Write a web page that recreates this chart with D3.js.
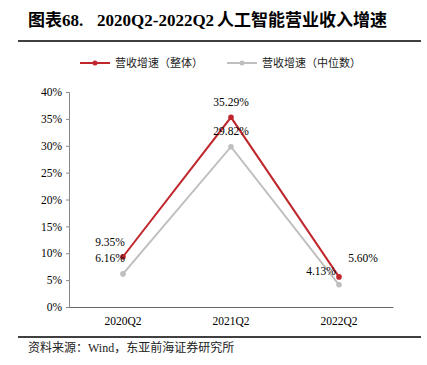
<!DOCTYPE html>
<html>
<head>
<meta charset="utf-8">
<script src="https://cdn.jsdelivr.net/npm/d3@7"></script>
<style>
  body { margin: 0; background: #fff; }
  svg { display: block; }
</style>
</head>
<body>
<div id="chart"></div>
<script>
const categories = ["2020Q2", "2021Q2", "2022Q2"];
const overall = [9.35, 35.29, 5.60];   // 营收增速（整体）
const median = [6.16, 29.82, 4.13];    // 营收增速（中位数）
const yTicks = [0, 5, 10, 15, 20, 25, 30, 35, 40];

const width = 427, height = 365;
const serif = "'Times New Roman', 'Liberation Serif', 'Noto Sans CJK SC', serif";
const red = "#C0272D", gray = "#BFBFBF";

const svg = d3.select("#chart").append("svg")
    .attr("width", width)
    .attr("height", height);

// title, in three pieces so the spacing matches
const title = svg.append("text")
    .attr("y", 26)
    .style("font-family", serif)
    .style("font-weight", "bold")
    .style("font-size", "17px");
title.append("tspan").attr("x", 28).text("图表68.");
title.append("tspan").attr("x", 97).text("2020Q2-2022Q2");
title.append("tspan").attr("x", 217).text("人工智能营业收入增速");

svg.append("line")
    .attr("x1", 18).attr("x2", 421)
    .attr("y1", 41).attr("y2", 41)
    .style("stroke", "#000").style("stroke-width", 1.5);

// plot area
const x = d3.scaleBand().domain(categories).range([69, 393]);
const y = d3.scaleLinear().domain([0, 40]).range([307, 92]);

// y axis
const yAxis = svg.append("g")
    .attr("transform", "translate(69,0)")
    .call(d3.axisLeft(y).tickValues(yTicks).tickSize(3).tickPadding(4).tickFormat(d => d + "%"));
yAxis.select(".domain").attr("stroke", "#888");
yAxis.selectAll(".tick line").attr("stroke", "#888");
yAxis.selectAll("text")
    .style("font-family", serif)
    .style("font-size", "11.5px")
    .attr("fill", "#000");

// x axis
const xAxis = svg.append("g")
    .attr("transform", "translate(0,307)")
    .call(d3.axisBottom(x).tickSize(0).tickPadding(10));
xAxis.select(".domain").attr("stroke", "#666").attr("stroke-width", 1);
xAxis.selectAll("text")
    .style("font-family", serif)
    .style("font-size", "11.5px")
    .attr("fill", "#000");

const cx = d => x(d) + x.bandwidth() / 2;

function drawSeries(values, color) {
    const line = d3.line()
        .x((d, i) => cx(categories[i]))
        .y(d => y(d));
    svg.append("path")
        .datum(values)
        .attr("d", line)
        .style("fill", "none")
        .style("stroke", color)
        .style("stroke-width", 2);
    svg.selectAll(null)
        .data(values)
        .enter()
        .append("circle")
        .attr("cx", (d, i) => cx(categories[i]))
        .attr("cy", d => y(d))
        .attr("r", 2.8)
        .style("fill", color);
}

drawSeries(median, gray);
drawSeries(overall, red);

// data labels (offsets relative to points)
const labelOffsets = {
    overall: [[-13, -11], [0, -11], [24, -15]],
    median: [[-13, -12], [0, -12], [-18, -10]]
};
function drawLabels(values, offsets) {
    svg.selectAll(null)
        .data(values)
        .enter()
        .append("text")
        .attr("x", (d, i) => cx(categories[i]) + offsets[i][0])
        .attr("y", (d, i) => y(d) + offsets[i][1])
        .attr("text-anchor", "middle")
        .style("font-family", serif)
        .style("font-size", "11.5px")
        .text(d => d.toFixed(2) + "%");
}
drawLabels(overall, labelOffsets.overall);
drawLabels(median, labelOffsets.median);

// legend
const legend = [
    {name: "营收增速（整体）", color: red, x: 80},
    {name: "营收增速（中位数）", color: gray, x: 227}
];
legend.forEach(l => {
    svg.append("line")
        .attr("x1", l.x).attr("x2", l.x + 30)
        .attr("y1", 63).attr("y2", 63)
        .style("stroke", l.color).style("stroke-width", 2);
    svg.append("circle")
        .attr("cx", l.x + 15).attr("cy", 63).attr("r", 2.5)
        .style("fill", l.color);
    svg.append("text")
        .attr("x", l.x + 35).attr("y", 67)
        .style("font-family", serif)
        .style("font-size", "11px")
        .attr("fill", "#222")
        .text(l.name);
});

// bottom rule and source
svg.append("line")
    .attr("x1", 18).attr("x2", 421)
    .attr("y1", 337).attr("y2", 337)
    .style("stroke", "#000").style("stroke-width", 1.5);

svg.append("text")
    .attr("x", 28).attr("y", 352)
    .style("font-family", serif)
    .style("font-size", "12px")
    .attr("fill", "#222")
    .text("资料来源：Wind，东亚前海证券研究所");
</script>
</body>
</html>
